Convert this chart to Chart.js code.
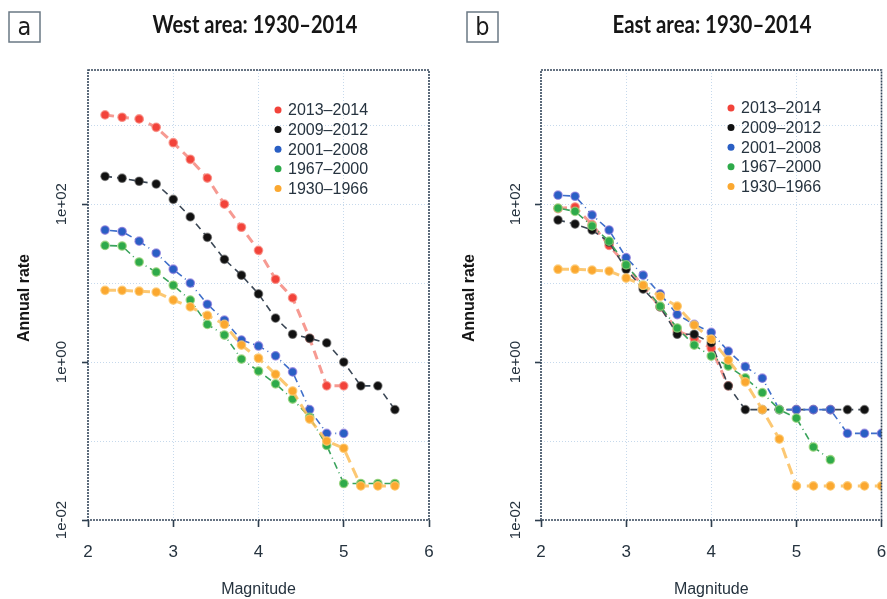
<!DOCTYPE html>
<html>
<head>
<meta charset="utf-8">
<script src="https://cdn.jsdelivr.net/npm/chart.js@4"></script>
<style>
  html, body { margin: 0; padding: 0; background: #fff; }
  #wrap { position: relative; width: 887px; height: 599px; }
  canvas { position: absolute; top: 0; }
  #west { left: 0; }
  #east { left: 443px; }
</style>
</head>
<body>
<div id="wrap">
  <canvas id="west" width="443" height="599"></canvas>
  <canvas id="east" width="444" height="599"></canvas>
</div>
<script>
// magnitudes (x) of the points
const magWest = [2.2, 2.4, 2.6, 2.8, 3.0, 3.2, 3.4, 3.6, 3.8, 4.0, 4.2, 4.4, 4.6, 4.8, 5.0, 5.2, 5.4, 5.6];
const magEast = [2.2, 2.4, 2.6, 2.8, 3.0, 3.2, 3.4, 3.6, 3.8, 4.0, 4.2, 4.4, 4.6, 4.8, 5.0, 5.2, 5.4, 5.6, 5.8, 6.0];

const xTicks = [2, 3, 4, 5, 6];
const yDecades = [0.01, 0.1, 1, 10, 100, 1000];
const yLabels = ['1e-02', '', '1e+00', '', '1e+02', ''];

const periods = ['2013–2014', '2009–2012', '2001–2008', '1967–2000', '1930–1966'];

// annual rates, west area
const west2013 = [1350, 1260, 1200, 940, 600, 370, 214, 100, 51, 26, 11.2, 6.5, 2.0, 0.5, 0.5, null, null, null];
const west2009 = [225, 213, 195, 180, 115, 69, 38, 20, 12.6, 7.3, 3.6, 2.25, 2.0, 1.75, 1.0, 0.5, 0.5, 0.25];
const west2001 = [47, 45, 34, 24, 15, 10, 5.4, 3.4, 1.9, 1.6, 1.2, 0.75, 0.25, 0.125, 0.125, null, null, null];
const west1967 = [30, 29.5, 18.5, 13.8, 9.4, 6.1, 3.0, 2.2, 1.09, 0.77, 0.53, 0.34, 0.2, 0.088, 0.029, 0.029, 0.029, 0.029];
const west1930 = [8.1, 8.1, 7.9, 7.7, 6.1, 5.0, 3.9, 3.0, 1.64, 1.12, 0.7, 0.43, 0.19, 0.1, 0.081, 0.027, 0.027, 0.027];

// annual rates, east area
const east2013 = [88, 92, 55, 30, 17, 9, 5, 2.5, 2, 1.5, 0.5, null, null, null, null, null, null, null, null, null];
const east2009 = [63, 56, 47, 33, 15, 8.4, 5.0, 2.25, 2.25, 1.75, 0.5, 0.25, 0.25, 0.25, 0.25, 0.25, 0.25, 0.25, 0.25, null];
const east2001 = [130, 126, 73, 47, 21, 12.6, 7.3, 4.0, 3.0, 2.375, 1.375, 0.875, 0.625, 0.25, 0.25, 0.25, 0.25, 0.125, 0.125, 0.125];
const east1967 = [89, 81, 53, 34, 17, 9.4, 5.1, 2.7, 1.64, 1.19, 0.89, 0.63, 0.41, 0.25, 0.195, 0.084, 0.058, null, null, null];
const east1930 = [15, 15, 14.6, 14.2, 11.6, 9.4, 6.8, 5.1, 2.94, 1.95, 1.06, 0.56, 0.25, 0.106, 0.027, 0.027, 0.027, 0.027, 0.027, 0.027];

// styles for each period (same order as periods)
const styles = [
  { dot: '#f2433a', halo: 'rgba(248,140,130,0.8)', line: 'rgba(243,120,110,0.75)', width: 3, dash: [9, 6] },
  { dot: '#111111', halo: 'rgba(90,90,90,0.6)', line: '#3b4755', width: 1.6, dash: [7, 5] },
  { dot: '#2a5fc4', halo: 'rgba(140,120,220,0.7)', line: '#3f6fca', width: 1.6, dash: [1, 4, 7, 4] },
  { dot: '#2eaa4a', halo: 'rgba(150,210,120,0.8)', line: '#3aa35c', width: 1.6, dash: [1, 4, 7, 4] },
  { dot: '#fba830', halo: 'rgba(252,200,110,0.8)', line: 'rgba(252,190,90,0.85)', width: 3, dash: [11, 6] }
];

const FONT = '"Liberation Sans", Arial, sans-serif';
const TEXT = '#26333f';

function makeSet(mags, vals, st) {
  return {
    data: mags.map((m, i) => ({ x: m, y: vals[i] })).filter(p => p.y != null),
    borderColor: st.line,
    borderWidth: st.width,
    borderDash: st.dash,
    pointBackgroundColor: st.dot,
    pointBorderColor: st.halo,
    pointBorderWidth: 1.3,
    pointRadius: 4.2,
    pointHoverRadius: 4.2,
    tension: 0,
    fill: false
  };
}

// draws the panel letter, title, box, y labels, axis titles and the legend
const panelPlugin = {
  id: 'panel',
  afterDraw(chart, args, o) {
    const ctx = chart.ctx;
    const a = chart.chartArea;
    const ys = chart.scales.y;
    ctx.save();

    // frame
    ctx.strokeStyle = '#34465a';
    ctx.lineWidth = 1.6;
    ctx.setLineDash([2, 1]);
    ctx.strokeRect(a.left, a.top, a.right - a.left, a.bottom - a.top);
    ctx.setLineDash([]);

    // letter box
    ctx.strokeStyle = '#6a7884';
    ctx.lineWidth = 1.5;
    ctx.strokeRect(o.boxX, 12, 31, 30);
    ctx.fillStyle = '#1c1c1c';
    ctx.font = '25px "DejaVu Sans Condensed", "Liberation Sans Narrow", "Liberation Sans", sans-serif';
    ctx.textAlign = 'center';
    ctx.textBaseline = 'alphabetic';
    ctx.fillText(o.letter, o.boxX + 15.5, 35);

    // title, squeezed to the width of the original condensed face
    ctx.font = 'bold 25px Lato, "Liberation Sans", sans-serif';
    const w = ctx.measureText(o.title).width;
    ctx.save();
    ctx.translate(o.titleX, 33);
    ctx.scale(o.titleW / w, 1);
    ctx.fillStyle = '#161616';
    ctx.fillText(o.title, 0, 0);
    ctx.restore();

    // y tick labels, rotated like R
    ctx.fillStyle = TEXT;
    ctx.font = '15px ' + FONT;
    ctx.textBaseline = 'middle';
    yDecades.forEach((v, i) => {
      if (!yLabels[i]) return;
      const py = ys.getPixelForValue(v);
      ctx.save();
      ctx.translate(o.yLabX, py);
      ctx.rotate(-Math.PI / 2);
      ctx.fillText(yLabels[i], 0, 0);
      ctx.restore();
    });

    // y axis title
    ctx.save();
    ctx.translate(o.yTitleX, 298);
    ctx.rotate(-Math.PI / 2);
    ctx.font = 'bold 16px ' + FONT;
    ctx.fillStyle = '#161616';
    ctx.fillText('Annual rate', 0, 0);
    ctx.restore();

    // x axis title
    ctx.font = '16px ' + FONT;
    ctx.fillStyle = TEXT;
    ctx.fillText('Magnitude', (a.left + a.right) / 2, 590);

    // legend
    ctx.textAlign = 'left';
    periods.forEach((p, i) => {
      const ly = o.legY + i * 19.6;
      ctx.beginPath();
      ctx.arc(o.legX, ly, 3.5, 0, Math.PI * 2);
      ctx.fillStyle = styles[i].dot;
      ctx.fill();
      ctx.fillStyle = TEXT;
      ctx.font = '16px ' + FONT;
      ctx.fillText(p, o.legX + 10, ly + 1);
    });
    ctx.restore();
  }
};

function makePanel(id, mags, series, cfg) {
  // oldest period first so it ends up on top
  const sets = [4, 3, 2, 1, 0].map(i => makeSet(mags, series[i], styles[i]));
  return new Chart(document.getElementById(id), {
    type: 'line',
    data: { datasets: sets },
    options: {
      responsive: false,
      animation: false,
      devicePixelRatio: 1,
      layout: { padding: { top: 70, right: cfg.padRight, left: 0, bottom: 0 } },
      plugins: {
        legend: { display: false },
        tooltip: { enabled: false },
        title: { display: false },
        panel: cfg
      },
      scales: {
        x: {
          type: 'linear',
          min: 2,
          max: 6,
          afterBuildTicks: s => { s.ticks = xTicks.map(v => ({ value: v })); },
          afterFit: s => { s.height = 79; s.paddingLeft = 0; s.paddingRight = 0; },
          grid: {
            color: c => (c.tick && (c.tick.value === 2 || c.tick.value === 6)) ? 'rgba(0,0,0,0)' : '#c6d9ec',
            tickColor: '#2e3e4e',
            tickLength: 7,
            tickWidth: 1.6,
            tickBorderDash: []
          },
          border: { display: false, dash: [1, 2] },
          ticks: { color: TEXT, font: { family: FONT, size: 17 }, padding: 15, maxRotation: 0 }
        },
        y: {
          type: 'logarithmic',
          min: 0.01,
          max: 5000,
          afterBuildTicks: s => { s.ticks = yDecades.map(v => ({ value: v })); },
          afterFit: s => { s.width = cfg.plotLeft; s.paddingTop = 0; s.paddingBottom = 0; },
          grid: {
            color: c => (c.tick && c.tick.value === 0.01) ? 'rgba(0,0,0,0)' : '#c6d9ec',
            tickColor: c => (c.index % 2 === 0) ? '#2e3e4e' : 'rgba(0,0,0,0)',
            tickLength: 6,
            tickWidth: 1.6,
            tickBorderDash: []
          },
          border: { display: false, dash: [1, 2] },
          ticks: { display: false }
        }
      }
    },
    plugins: [panelPlugin]
  });
}

makePanel('west', magWest, [west2013, west2009, west2001, west1967, west1930], {
  letter: 'a', boxX: 9, title: 'West area: 1930–2014', titleX: 255, titleW: 205,
  plotLeft: 88, padRight: 14, yLabX: 62, yTitleX: 25, legX: 278, legY: 110
});

makePanel('east', magEast, [east2013, east2009, east2001, east1967, east1930], {
  letter: 'b', boxX: 24, title: 'East area: 1930–2014', titleX: 269, titleW: 199,
  plotLeft: 98, padRight: 5, yLabX: 73, yTitleX: 27, legX: 288, legY: 108
});
</script>
</body>
</html>
